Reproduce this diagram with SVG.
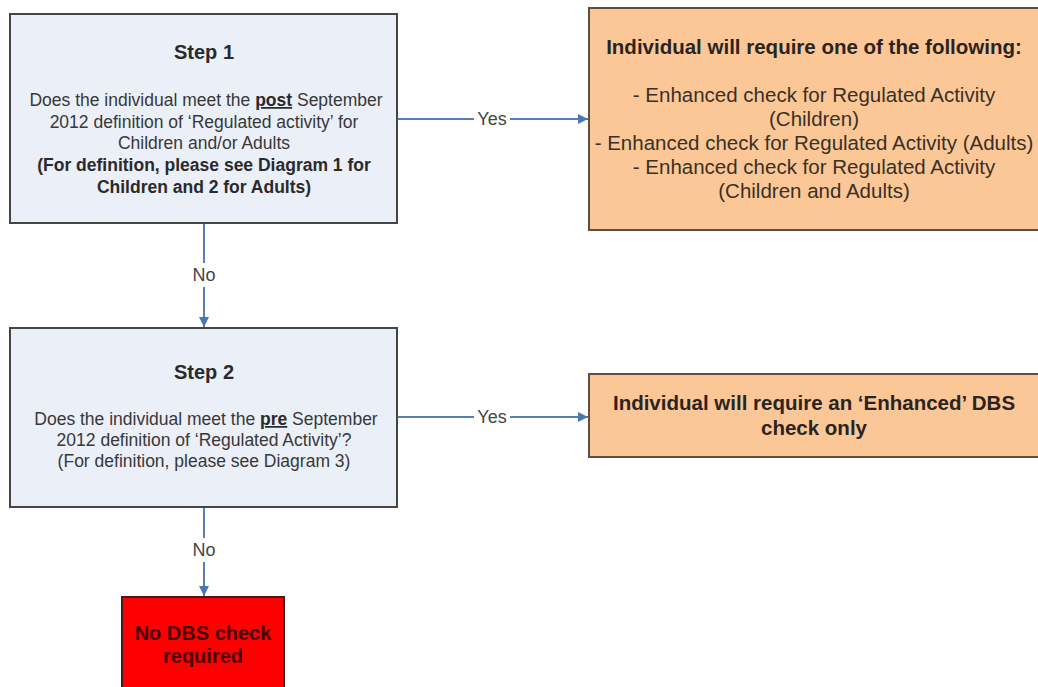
<svg xmlns="http://www.w3.org/2000/svg" width="1038" height="687" viewBox="0 0 1038 687">
<defs>
<style>
.step{fill:#eaeff8;stroke:#454545;stroke-width:2}
.orange{fill:#fbc797;stroke:#5e5040;stroke-width:2}
.red{fill:#ff0000;stroke:#4a1a1a;stroke-width:2}
text{font-family:"Liberation Sans",Arial,sans-serif;text-anchor:middle}
.title{font-size:20px;font-weight:bold;fill:#2a2a2a}
.body{font-size:17.5px;fill:#383838}
.bbody{font-size:17.5px;font-weight:bold;fill:#2a2a2a}
.obody{font-size:20.5px;fill:#3a3026}
.otitle{font-size:20.5px;font-weight:bold;fill:#2a2420}
.rtext{font-size:20px;font-weight:bold;fill:#4a0000}
.lbl{font-size:18px;fill:#444}
.conn{stroke:#5a7fb4;stroke-width:2;fill:none}
.lblbg{fill:#ffffff}
</style>
<marker id="arr" viewBox="0 0 10 10" refX="10" refY="5" markerWidth="5" markerHeight="5" orient="auto" markerUnits="strokeWidth">
<path d="M0,0 L10,5 L0,10 z" fill="#4a76b2"/>
</marker>
</defs>
<rect width="1038" height="687" fill="#ffffff"/>

<g id="connectors">
<line class="conn" x1="397" y1="119" x2="588" y2="119" marker-end="url(#arr)"/>
<rect class="lblbg" x="474" y="108" width="36" height="22"/>
<text class="lbl" x="492" y="125">Yes</text>

<line class="conn" x1="397" y1="417" x2="588" y2="417" marker-end="url(#arr)"/>
<rect class="lblbg" x="474" y="406" width="36" height="22"/>
<text class="lbl" x="492" y="423">Yes</text>

<line class="conn" x1="204" y1="223" x2="204" y2="327" marker-end="url(#arr)"/>
<rect class="lblbg" x="189" y="263" width="30" height="24"/>
<text class="lbl" x="204" y="281">No</text>

<line class="conn" x1="204" y1="507" x2="204" y2="596" marker-end="url(#arr)"/>
<rect class="lblbg" x="189" y="538" width="30" height="24"/>
<text class="lbl" x="204" y="556">No</text>
</g>

<g id="step1">
<rect class="step" x="10" y="14" width="387" height="209"/>
<text class="title" x="204" y="59">Step 1</text>
<text class="body" x="206" y="106">Does the individual meet the <tspan font-weight="bold" text-decoration="underline" fill="#2a2a2a">post</tspan> September</text>
<text class="body" x="204" y="128">2012 definition of ‘Regulated activity’ for</text>
<text class="body" x="204" y="149">Children and/or Adults</text>
<text class="bbody" x="204" y="171">(For definition, please see Diagram 1 for</text>
<text class="bbody" x="204" y="193">Children and 2 for Adults)</text>
</g>

<g id="step2">
<rect class="step" x="10" y="328" width="387" height="179"/>
<text class="title" x="204" y="379">Step 2</text>
<text class="body" x="206" y="425">Does the individual meet the <tspan font-weight="bold" text-decoration="underline" fill="#2a2a2a">pre</tspan> September</text>
<text class="body" x="204" y="446">2012 definition of ‘Regulated Activity’?</text>
<text class="body" x="204" y="467">(For definition, please see Diagram 3)</text>
</g>

<g id="outcome1">
<rect class="orange" x="589" y="8" width="460" height="222"/>
<text class="otitle" x="814" y="54">Individual will require one of the following:</text>
<text class="obody" x="814" y="102">- Enhanced check for Regulated Activity</text>
<text class="obody" x="814" y="126">(Children)</text>
<text class="obody" x="814" y="150">- Enhanced check for Regulated Activity (Adults)</text>
<text class="obody" x="814" y="174">- Enhanced check for Regulated Activity</text>
<text class="obody" x="814" y="198">(Children and Adults)</text>
</g>

<g id="outcome2">
<rect class="orange" x="589" y="374" width="460" height="83"/>
<text class="otitle" x="814" y="410">Individual will require an ‘Enhanced’ DBS</text>
<text class="otitle" x="814" y="435">check only</text>
</g>

<g id="outcome3">
<rect class="red" x="122" y="597" width="162" height="100"/>
<text class="rtext" x="203" y="640">No DBS check</text>
<text class="rtext" x="203" y="663">required</text>
</g>
</svg>
